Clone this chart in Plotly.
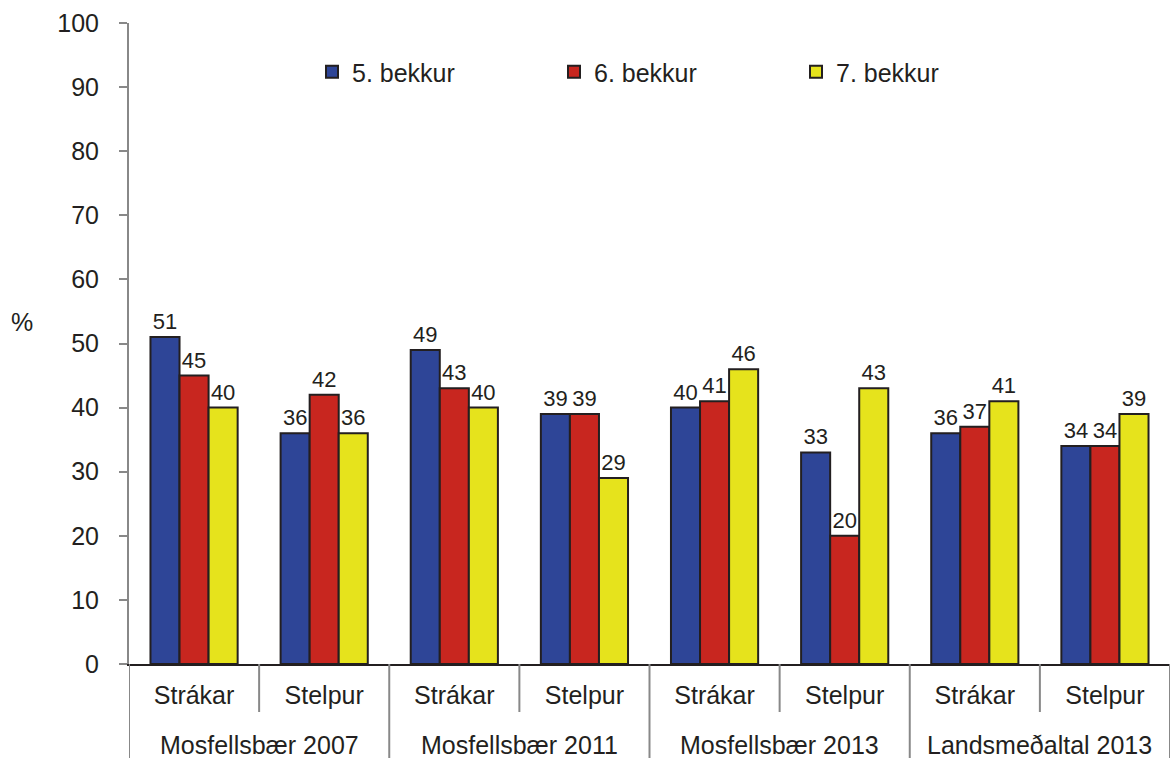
import plotly.graph_objects as go

group_names = ["Mosfellsbær 2007", "Mosfellsbær 2011", "Mosfellsbær 2013", "Landsmeðaltal 2013"]
genders = ["Strákar", "Stelpur"] * 4
grade5 = [51, 36, 49, 39, 40, 33, 36, 34]
grade6 = [45, 42, 43, 39, 41, 20, 37, 34]
grade7 = [40, 36, 40, 29, 46, 43, 41, 39]
series_names = ["5. bekkur", "6. bekkur", "7. bekkur"]
colors = ["#2E4597", "#C8261F", "#E6E31C"]
yticks = list(range(0, 101, 10))

W, H = 1172, 758
L, R, T, B = 129, 2, 23, 94
PW, PH = W - L - R, H - T - B

xpos = list(range(len(genders)))

fig = go.Figure()
for name, vals, col in zip(series_names, [grade5, grade6, grade7], colors):
    fig.add_trace(go.Bar(
        x=xpos, y=vals, name=name,
        marker=dict(color=col, line=dict(color="#231F20", width=2)),
        text=[str(v) for v in vals], textposition="outside",
        textfont=dict(size=22, color="#231F20"), cliponaxis=False,
    ))

fig.update_layout(
    barmode="group", bargap=0.33, bargroupgap=0,
    width=W, height=H,
    margin=dict(l=L, r=R, t=T, b=B, autoexpand=False),
    paper_bgcolor="white", plot_bgcolor="white",
    font=dict(family="Liberation Sans, Arial, sans-serif", size=25, color="#231F20"),
    legend=dict(orientation="h", x=(312 - L) / PW, y=(664 - 72) / PH,
                xanchor="left", yanchor="middle",
                font=dict(size=25), entrywidth=197, entrywidthmode="pixels",
                itemwidth=30, bgcolor="rgba(0,0,0,0)", traceorder="normal"),
    showlegend=True,
)
fig.update_yaxes(range=[0, 100], tickvals=yticks, showgrid=False,
                 showline=True, linecolor="#888888", linewidth=2,
                 ticks="outside", ticklen=8, tickcolor="#888888", tickwidth=2,
                 ticklabelstandoff=15, tickfont=dict(size=25), zeroline=False)
fig.update_xaxes(range=[-0.5, len(genders) - 0.5], tickvals=xpos, ticktext=genders,
                 showline=True, linecolor="#231F20", linewidth=1.5,
                 showgrid=False, zeroline=False, ticks="",
                 ticklabelstandoff=8, tickfont=dict(size=25))
# dividers: short ones between Strákar / Stelpur, long ones between groups
for k in range(len(genders) + 1):
    xb = k - 0.5
    bottom = 758 if k % 2 == 0 else 712
    fig.add_shape(type="line", xref="x", yref="paper",
                  x0=xb, x1=xb, y0=0, y1=-(bottom - 664) / PH,
                  line=dict(color="#888888", width=2))
# group labels
for i, g in enumerate(group_names):
    fig.add_annotation(text=g, xref="x", yref="paper",
                       x=2 * i + 0.5, y=(664 - 745) / PH,
                       xanchor="center", yanchor="middle", showarrow=False,
                       font=dict(size=25))
fig.add_annotation(text="%", xref="paper", yref="paper",
                   x=(22 - L) / PW, y=(664 - 322) / PH,
                   xanchor="center", yanchor="middle", showarrow=False,
                   font=dict(size=25))
fig.write_html("out.html", config={"displayModeBar": False},
               post_script="document.body.style.margin='0';")
